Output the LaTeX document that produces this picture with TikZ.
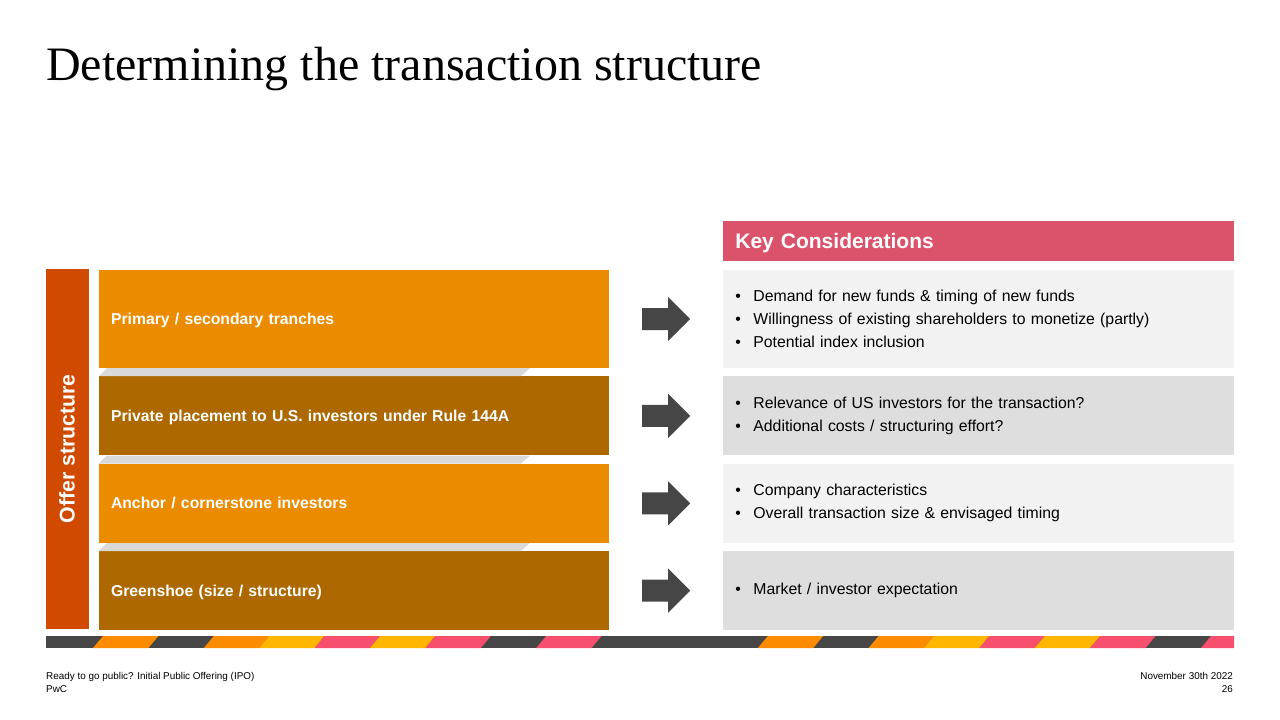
\documentclass[tikz,border=0pt]{standalone}
\usepackage{fontspec}
\setmainfont{Liberation Sans}
\newfontfamily\titlefont{Liberation Serif}
\usepackage{xcolor}
\definecolor{pwcred}{HTML}{D04A02}
\definecolor{pwcorange}{HTML}{EB8C00}
\definecolor{pwcbrown}{HTML}{AE6800}
\definecolor{pwcrose}{HTML}{DB536A}
\definecolor{pwcgrey}{HTML}{464646}
\definecolor{lightbox}{HTML}{F2F2F2}
\definecolor{darkbox}{HTML}{DEDEDE}
\definecolor{shadowgrey}{HTML}{D9D9D9}
\definecolor{stripeorange}{HTML}{FD8B00}
\definecolor{stripeyellow}{HTML}{FFB600}
\definecolor{stripepink}{HTML}{F7506E}
\usetikzlibrary{positioning,calc}
\newcommand{\bul}{\makebox[18pt][l]{\textbullet}}

\begin{document}
\begin{tikzpicture}[x=1pt,y=-1pt,node distance=8pt,
  rowbox/.style={minimum width=510pt,minimum height=79pt,inner xsep=12pt,text width=486pt,align=left,text height=11pt,text depth=0pt,text=white,font=\bfseries\fontsize{15.75}{18}\selectfont},
  keybox/.style={minimum width=511pt,minimum height=79pt,inner xsep=12pt,text width=487pt,align=left,font=\fontsize{15.8}{23}\selectfont}]
  \useasboundingbox (0,0) rectangle (1280,720);
  \node[anchor=base west,inner sep=0,font=\titlefont\fontsize{48}{54}\selectfont] (title) at (46,80) {Determining the transaction structure};

  \node[fill=pwcred,rotate=90,minimum width=360pt,minimum height=43pt,text=white,font=\bfseries\fontsize{21.3}{24}\selectfont] (offer) at (67,449) {Offer structure};
  \node[rowbox,fill=pwcorange,minimum height=98pt] (r1) at (354,319) {Primary / secondary tranches};
  \node[rowbox,fill=pwcbrown,below=of r1] (r2) {Private placement to U.S. investors under Rule 144A};
  \node[rowbox,fill=pwcorange,below=of r2] (r3) {Anchor / cornerstone investors};
  \node[rowbox,fill=pwcbrown,below=of r3] (r4) {Greenshoe (size / structure)};
  \foreach \r in {r1,r2,r3}
    \fill[shadowgrey] (\r.south west) ++(8,0) -- ++(423,0) -- ++(-9,8) -- ($(\r.south west)+(0,8)$) -- cycle;

  \node[keybox,fill=lightbox,minimum height=98pt,right=114pt of r1] (k1) {\bul Demand for new funds \& timing of new funds\\ \bul Willingness of existing shareholders to monetize (partly)\\ \bul Potential index inclusion};
  \node[keybox,fill=darkbox,right=114pt of r2] (k2) {\bul Relevance of US investors for the transaction?\\ \bul Additional costs / structuring effort?};
  \node[keybox,fill=lightbox,right=114pt of r3] (k3) {\bul Company characteristics\\ \bul Overall transaction size \& envisaged timing};
  \node[keybox,fill=darkbox,right=114pt of r4] (k4) {\bul Market / investor expectation};
  \node[keybox,fill=pwcrose,minimum height=40pt,text height=15pt,text depth=0pt,text=white,font=\bfseries\fontsize{21}{24}\selectfont,above=9pt of k1] (key) {Key Considerations};

  \foreach \i in {1,2,3,4}
    \fill[pwcgrey] ($(r\i.east)!0.5!(k\i.west)$) ++(-24,-11) -- ++(26,0) -- ++(0,-11) -- ++(22,22) -- ++(-22,22) -- ++(0,-11) -- ++(-26,0) -- cycle;

  \fill[pwcgrey] (46,636) rectangle (1234,648);
  \begin{scope}
    \clip (46,636) rectangle (1234,648);
    \foreach \k/\c in {0/stripeorange,2/stripeorange,3/stripeyellow,4/stripepink,5/stripeyellow,6/stripepink,8/stripepink,12/stripeorange,14/stripeorange,15/stripeyellow,16/stripepink,17/stripeyellow,18/stripepink,20/stripepink}
      \fill[\c] (93+55.4*\k,648) -- ++(55.4,0) -- ++(10,-12) -- ++(-55.4,0) -- cycle;
  \end{scope}

  \node[anchor=base west,inner sep=0,font=\fontsize{9.9}{12}\selectfont] (foot1) at (46,679) {Ready to go public? Initial Public Offering (IPO)};
  \node[anchor=base west,inner sep=0,font=\fontsize{9.9}{12}\selectfont] (foot2) at (46,692) {PwC};
  \node[anchor=base east,inner sep=0,font=\fontsize{9.9}{12}\selectfont] (date) at (1233,679) {November 30th 2022};
  \node[anchor=base east,inner sep=0,font=\fontsize{9.9}{12}\selectfont] (page) at (1233,692) {26};
\end{tikzpicture}
\end{document}
